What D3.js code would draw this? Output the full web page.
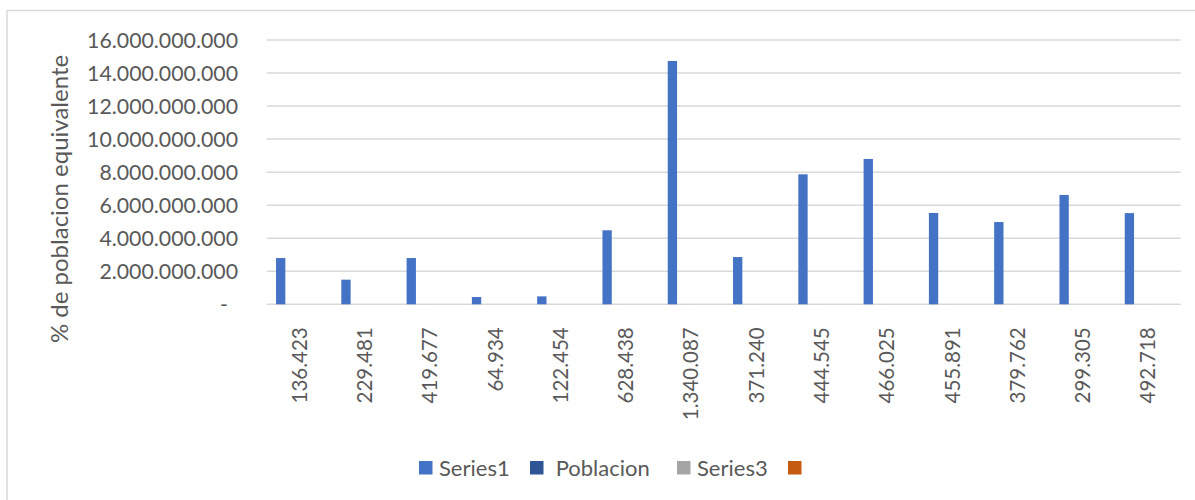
<!DOCTYPE html>
<html>
<head>
<meta charset="utf-8">
<script src="https://cdn.jsdelivr.net/npm/d3@7"></script>
<style>
  html, body { margin: 0; padding: 0; background: #ffffff; }
  svg { display: block; }
  text { font-family: Lato, "Open Sans", sans-serif; fill: #595959; }
</style>
</head>
<body>
<svg id="chart" width="1195" height="500"></svg>
<script>
// Population of each locality (category labels on the x axis)
const categories = ["136.423", "229.481", "419.677", "64.934", "122.454", "628.438", "1.340.087",
                    "371.240", "444.545", "466.025", "455.891", "379.762", "299.305", "492.718"];
// Series1: equivalent population values
const series1 = [2.80e9, 1.49e9, 2.80e9, 0.44e9, 0.48e9, 4.48e9, 14.73e9,
                 2.86e9, 7.87e9, 8.80e9, 5.53e9, 4.98e9, 6.62e9, 5.52e9];
// Poblacion: raw population counts
const poblacion = [136423, 229481, 419677, 64934, 122454, 628438, 1340087,
                   371240, 444545, 466025, 455891, 379762, 299305, 492718];
const yTicks = [0, 2e9, 4e9, 6e9, 8e9, 10e9, 12e9, 14e9, 16e9];
const legendNames = ["Series1", " Poblacion", "Series3", ""];
const colors = ["#4472C4", "#2F5597", "#A5A5A5", "#C55A11"];

const svg = d3.select("#chart");
const plot = { left: 266.7, right: 1180.7, top: 40, bottom: 304.3 };

// Outer chart frame
svg.append("rect")
  .attr("x", 7).attr("y", 10.5)
  .attr("width", 1200).attr("height", 500)
  .attr("fill", "none").attr("stroke", "#D9D9D9").attr("stroke-width", 1.5);

const x = d3.scaleBand().domain(d3.range(categories.length))
  .range([plot.left, plot.right]).padding(0);
const y = d3.scaleLinear().domain([0, 16e9]).range([plot.bottom, plot.top]);

const loc = d3.formatLocale({ thousands: ".", grouping: [3], decimal: ",", currency: ["", ""] });
const fmt = loc.format(",.0f");

// Horizontal gridlines
svg.append("g").selectAll("line").data(yTicks).join("line")
  .attr("x1", plot.left).attr("x2", plot.right)
  .attr("y1", d => y(d)).attr("y2", d => y(d))
  .attr("stroke", "#D9D9D9").attr("stroke-width", 1.5);

// Y axis labels
const yAxis = d3.axisLeft(y).tickValues(yTicks)
  .tickSize(0).tickPadding(0)
  .tickFormat(d => d === 0 ? "-" : fmt(d));
const gy = svg.append("g").attr("transform", "translate(238,0)").call(yAxis);
gy.select(".domain").remove();
gy.selectAll("text")
  .attr("font-family", "Lato, sans-serif").attr("font-size", "21.3px")
  .attr("fill", "#595959").attr("dy", "0.35em")
  .attr("dx", d => d === 0 ? -10 : 0);

// Bars: four series per category, Series1 and Poblacion carry values
const bw = x.bandwidth() / 7;
const seriesData = [series1, poblacion];
seriesData.forEach((vals, k) => {
  svg.append("g").selectAll("rect").data(vals).join("rect")
    .attr("x", (d, i) => x(i) + bw * (1 + k * 4 / 3))
    .attr("width", bw)
    .attr("y", d => y(d))
    .attr("height", d => y(0) - y(d))
    .attr("fill", colors[k]);
});

// X axis category labels (rotated)
const xAxis = d3.axisBottom(x).tickSize(0).tickFormat(i => categories[i]);
const gx = svg.append("g").attr("transform", `translate(0,${plot.bottom})`).call(xAxis);
gx.select(".domain").remove();
gx.selectAll("text")
  .attr("font-family", "Lato, sans-serif").attr("font-size", "20.5px")
  .attr("fill", "#595959")
  .attr("text-anchor", "end")
  .attr("transform", "translate(0,23) rotate(-90)")
  .attr("x", 0).attr("y", 0).attr("dy", "0.36em");

// Y axis title
svg.append("text")
  .attr("transform", "translate(68,199) rotate(-90)")
  .attr("text-anchor", "middle")
  .attr("font-size", "24px")
  .text("% de poblacion equivalente");

// Legend
const legend = svg.append("g");
const legendX = [419, 530, 677, 788];
legendNames.forEach((name, k) => {
  legend.append("rect")
    .attr("x", legendX[k]).attr("y", 461)
    .attr("width", 13.5).attr("height", 13.5)
    .attr("fill", colors[k]);
  legend.append("text")
    .attr("x", legendX[k] + 20).attr("y", 467.8).attr("dy", "0.35em")
    .attr("font-size", "22px")
    .attr("xml:space", "preserve")
    .text(name);
});
</script>
</body>
</html>
